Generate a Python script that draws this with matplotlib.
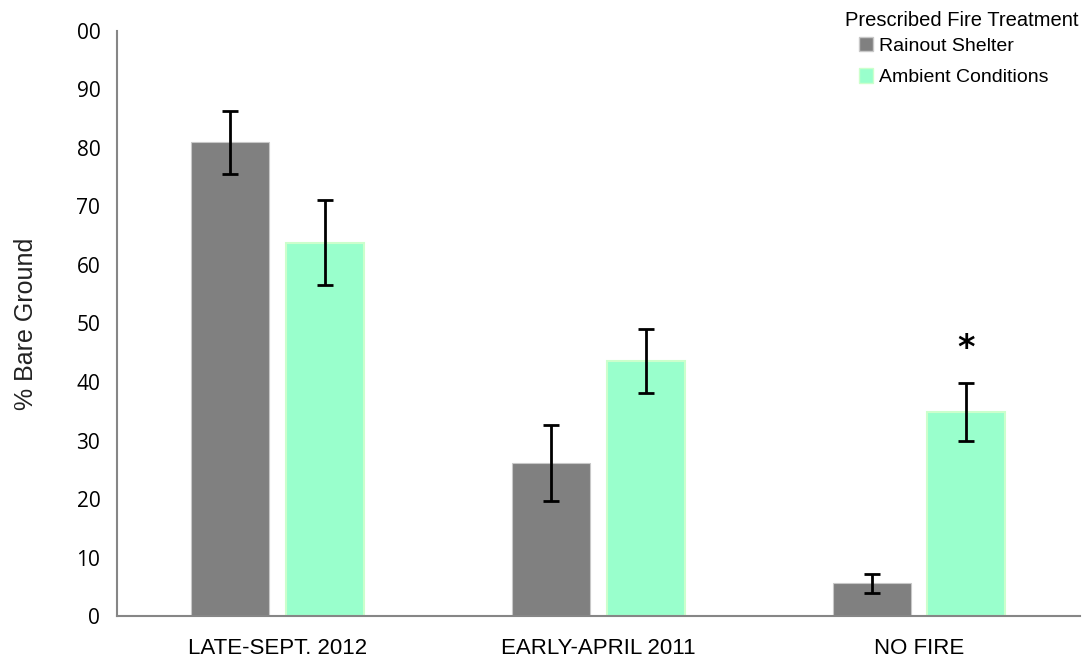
import matplotlib
matplotlib.use("Agg")
import matplotlib.pyplot as plt
import numpy as np
from matplotlib.patches import Patch

categories = ["LATE-SEPT. 2012", "EARLY-APRIL 2011", "NO FIRE"]
series_names = ["Rainout Shelter", "Ambient Conditions"]
shelter = [81.0, 26.2, 5.6]
shelter_err = [5.4, 6.5, 1.6]
ambient = [63.8, 43.6, 34.9]
ambient_err = [7.3, 5.5, 5.0]
ytick_vals = [0, 10, 20, 30, 40, 50, 60, 70, 80, 90, 100]
ytick_labels = ["0", "10", "20", "30", "40", "50", "60", "70", "80", "90", "00"]

narrow = ["Liberation Sans Narrow", "Liberation Sans", "DejaVu Sans"]

fig = plt.figure(figsize=(10.83, 6.69), dpi=100)
ax = fig.add_axes([0.108, 0.0792, 0.889, 0.8745])

x = np.arange(len(categories))
w = 0.243
off = 0.147
gray = "#808080"
green = "#99ffcc"

ax.bar(x - off, shelter, w, color=gray, edgecolor="#c8c8c8", linewidth=0.8, zorder=2)
ax.bar(x + off, ambient, w, color=green, edgecolor="#ccffcc", linewidth=1.5, zorder=2)
ax.errorbar(x - off, shelter, yerr=shelter_err, fmt="none", ecolor="black",
            elinewidth=2, capsize=6, capthick=2, zorder=3)
ax.errorbar(x + off, ambient, yerr=ambient_err, fmt="none", ecolor="black",
            elinewidth=2, capsize=6, capthick=2, zorder=3)

# significance marker over the no-fire ambient bar
ax.text(x[2] + off, ambient[2] + ambient_err[2] + 5.8, "*", ha="center", va="center",
        fontsize=24, fontweight="bold", family=["DejaVu Sans"])

ax.set_xlim(-0.5, 2.5)
ax.set_ylim(0, 100)
ax.set_yticks(ytick_vals)
ax.set_yticklabels(ytick_labels, family=["Open Sans", "DejaVu Sans"], fontsize=15)
ax.set_xticks(x)
ax.set_xticklabels(categories, family=narrow, fontsize=16)
ax.tick_params(axis="both", length=0)
ax.tick_params(axis="y", pad=12)
ax.tick_params(axis="x", pad=16)

for s in ["top", "right"]:
    ax.spines[s].set_visible(False)
for s in ["left", "bottom"]:
    ax.spines[s].set_color("#868686")
    ax.spines[s].set_linewidth(1.5)

ax.set_ylabel("% Bare Ground", fontsize=18, family=["Liberation Sans", "DejaVu Sans"],
              labelpad=28, color="#222222")

# legend title and entries
fig.text(0.9955, 0.970, "Prescribed Fire Treatment", ha="right", va="center",
         family=narrow, fontsize=14.5)
handles = [Patch(facecolor=gray, edgecolor="#c8c8c8"),
           Patch(facecolor=green, edgecolor="#ccffcc")]
leg = fig.legend(handles, series_names, loc="upper left",
                 bbox_to_anchor=(0.793, 0.945), frameon=False,
                 prop={"family": narrow, "size": 14}, handlelength=0.75, handleheight=0.75,
                 handletextpad=0.3, labelspacing=0.7, borderaxespad=0.0, borderpad=0.0)

fig.savefig("out.png", dpi=100)
